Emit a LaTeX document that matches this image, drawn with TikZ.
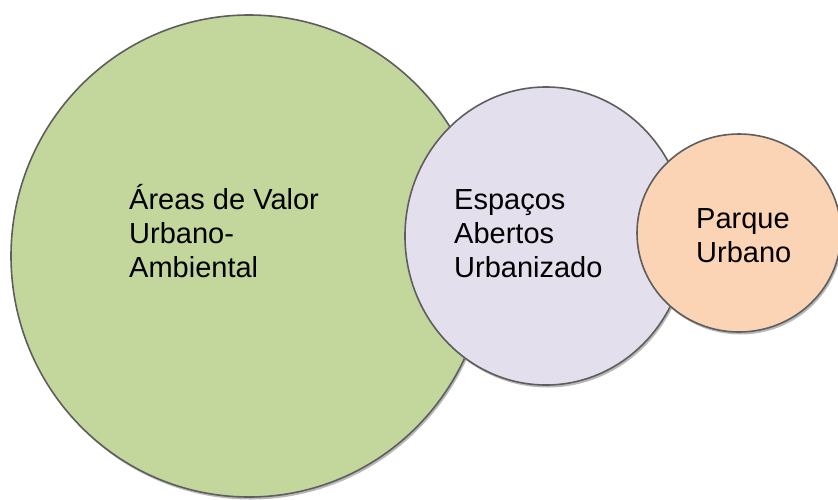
\documentclass[tikz,border=0pt]{standalone}
\usepackage{fontspec}
\setmainfont{Liberation Sans}
\usetikzlibrary{shapes.geometric,shadows}
\definecolor{mGreen}{HTML}{C3D69B}
\definecolor{mLilac}{HTML}{E4DFEC}
\definecolor{mPeach}{HTML}{FAD4B4}
\definecolor{mEdge}{HTML}{5E5E5E}
\tikzset{
  area/.style ={ellipse,draw=mEdge,line width=1.6pt,inner sep=0pt,
                drop shadow={shadow xshift=1.5pt,shadow yshift=-2.5pt,fill=black!32,opacity=.85}},
  lbl/.style  ={align=left,inner sep=0pt,anchor=base west,font=\fontsize{29}{34}\selectfont},
}

\begin{document}
\begin{tikzpicture}[x=1pt,y=1pt]
  \useasboundingbox (0,0) rectangle (838,-499);
  \node[area,fill=mGreen,minimum width=476,minimum height=482] (valor) at (249,-256) {};
  \node[area,fill=mLilac,minimum width=282,minimum height=298] (espacos) at (546,-236) {};
  \node[area,fill=mPeach,minimum width=204,minimum height=198] (parque) at (739,-233) {};

  \node[lbl] (tvalor)   at (129,-277) {Áreas de Valor\\Urbano-\\Ambiental};
  \node[lbl] (tespacos) at (454,-277) {Espaços\\Abertos\\Urbanizado};
  \node[lbl] (tparque)  at (696,-262) {Parque\\Urbano};
\end{tikzpicture}
\end{document}
